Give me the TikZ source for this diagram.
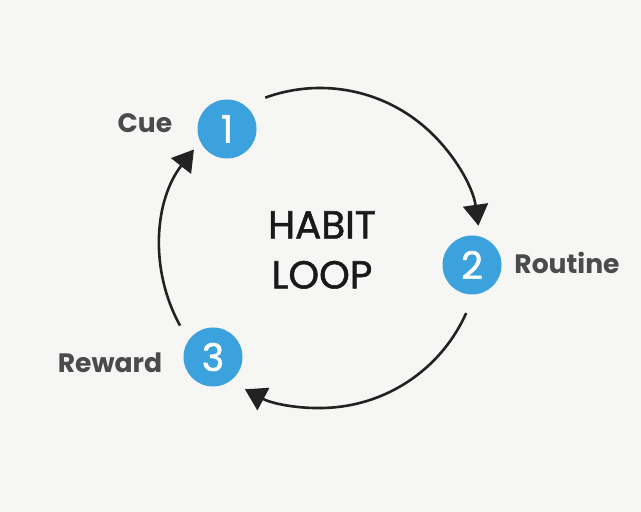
\documentclass[tikz,border=0pt]{standalone}
\usepackage{fontspec}
\setmainfont{Poppins}
\newfontfamily\mediumfont[FakeBold=1.4]{Poppins}
\usetikzlibrary{arrows.meta}
\definecolor{loopblue}{RGB}{60,162,222}
\definecolor{labelgray}{RGB}{75,75,75}
\definecolor{linegray}{RGB}{34,34,34}
\definecolor{bggray}{RGB}{246,246,245}
\begin{document}
\begin{tikzpicture}[x=0.5pt, y=0.5pt, line width=1.3pt, >={Triangle[length=10.5pt,width=12.5pt]},
  num node/.style={circle,fill=loopblue,text=white,minimum size=29.5pt,inner sep=0pt,font=\mediumfont\fontsize{19}{19}\selectfont},
  label node/.style={text=labelgray,inner sep=0pt,font=\bfseries\fontsize{13.3}{13.3}\selectfont}]
\fill[bggray] (0,0) rectangle (641,512);
\useasboundingbox (0,0) rectangle (641,512);
\node (mid) at (320,264) {};
\node [align=center, text=black!90, font=\mediumfont\fontsize{19.5}{25}\selectfont] (title) at (322,262) {HABIT\\LOOP};
\node [num node] (one) at (227,383) {1};
\node [num node] (two) at (472,247) {2};
\node [num node] (three) at (213,155) {3};
\node [label node] (cue) at (145,389) {Cue};
\node [label node] (routine) at (567,249) {Routine};
\node [label node] (reward) at (110,149) {Reward};
\coordinate (s12) at ([shift={(110:80pt)}]mid.center);
\coordinate (s23) at ([shift={(-24:80pt)}]mid.center);
\coordinate (s31) at ([shift={(209:80pt)}]mid.center);
\draw [->, linegray] (s12) arc [start angle=110, end angle=8, radius=80pt];
\draw [->, linegray] (s23) arc [start angle=-24, end angle=-118, radius=80pt];
\draw [->, linegray] (s31) arc [start angle=209, end angle=142, radius=80pt];
\end{tikzpicture}
\end{document}
